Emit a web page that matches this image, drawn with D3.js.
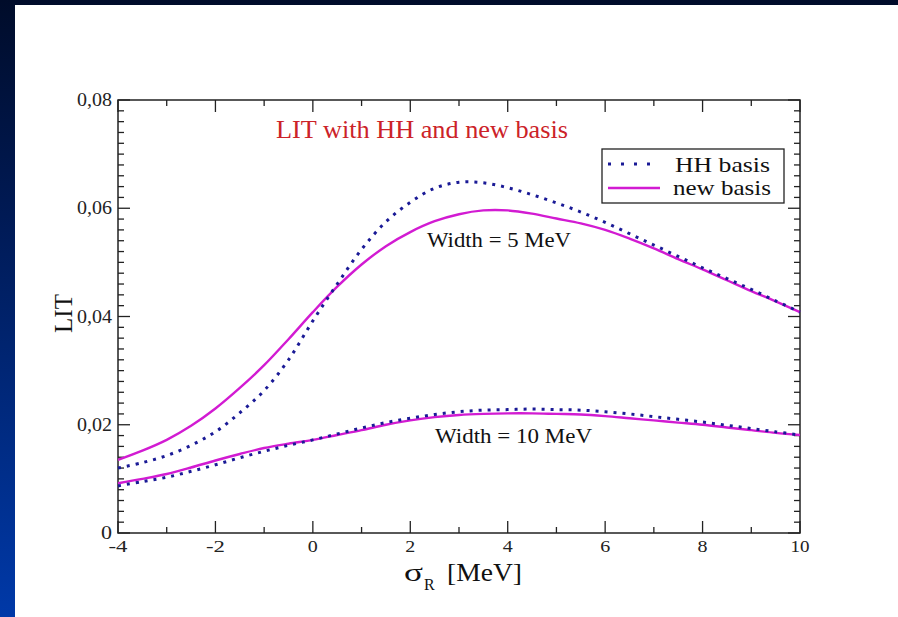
<!DOCTYPE html>
<html>
<head>
<meta charset="utf-8">
<script src="https://cdn.jsdelivr.net/npm/d3@7"></script>
<style>
  html, body { margin: 0; padding: 0; background: #ffffff; }
  svg { display: block; }
  text { font-family: "Liberation Serif", "DejaVu Serif", serif; }
</style>
</head>
<body>
<svg id="chart" width="898" height="617"></svg>
<script>
// Energy grid (MeV) and LIT values for the two Lorentz widths
const xGrid = [-4, -3.5, -3, -2.5, -2, -1.5, -1, -0.5, 0, 0.5, 1, 1.5, 2, 2.5, 3, 3.5, 4, 4.5, 5, 5.5, 6, 6.5, 7, 7.5, 8, 8.5, 9, 9.5, 10];

// Width = 5 MeV
const hh5  = [0.0120, 0.0130, 0.0143, 0.0162, 0.0187, 0.0222, 0.0263, 0.0320, 0.0392, 0.0460, 0.0524, 0.0575, 0.0611, 0.0637, 0.0648, 0.0647, 0.0638, 0.0625, 0.0610, 0.0593, 0.0574, 0.0553, 0.0532, 0.0511, 0.0490, 0.0470, 0.0450, 0.0429, 0.0408];
const new5 = [0.0135, 0.0152, 0.0172, 0.0198, 0.0230, 0.0268, 0.0310, 0.0358, 0.0408, 0.0455, 0.0496, 0.0530, 0.0556, 0.0576, 0.0589, 0.0596, 0.0596, 0.0590, 0.0581, 0.0572, 0.0560, 0.0544, 0.0526, 0.0506, 0.0487, 0.0467, 0.0447, 0.0428, 0.0408];

// Width = 10 MeV
const hh10  = [0.0087, 0.0095, 0.0103, 0.0114, 0.0126, 0.0139, 0.0151, 0.0162, 0.0172, 0.0183, 0.0194, 0.0204, 0.0212, 0.0219, 0.0224, 0.0227, 0.0228, 0.0229, 0.0228, 0.0227, 0.0224, 0.0220, 0.0215, 0.0210, 0.0205, 0.0199, 0.0193, 0.0187, 0.0181];
const new10 = [0.0092, 0.0100, 0.0109, 0.0121, 0.0134, 0.0146, 0.0157, 0.0165, 0.0172, 0.0181, 0.0190, 0.0200, 0.0208, 0.0214, 0.0218, 0.0220, 0.0221, 0.0221, 0.0220, 0.0219, 0.0216, 0.0212, 0.0208, 0.0204, 0.0200, 0.0195, 0.0190, 0.0185, 0.0181];

const xTicks = [-4, -2, 0, 2, 4, 6, 8, 10];
const xTickLabels = ["-4", "-2", "0", "2", "4", "6", "8", "10"];
const yTicks = [0, 0.02, 0.04, 0.06, 0.08];
const yTickLabels = ["0", "0,02", "0,04", "0,06", "0,08"];
const seriesNames = ["HH basis", "new basis"];

const W = 898, H = 617;
const svg = d3.select("#chart");

// Slide background: dark navy at the top fading to blue at the bottom
const defs = svg.append("defs");
const grad = defs.append("linearGradient").attr("id", "slideBg")
  .attr("x1", 0).attr("y1", 0).attr("x2", 0).attr("y2", 1);
grad.append("stop").attr("offset", "0%").attr("stop-color", "#000c2a");
grad.append("stop").attr("offset", "35%").attr("stop-color", "#001a55");
grad.append("stop").attr("offset", "100%").attr("stop-color", "#0039a8");
svg.append("rect").attr("width", W).attr("height", H).attr("fill", "url(#slideBg)");
svg.append("rect").attr("x", 15).attr("y", 5).attr("width", W - 15).attr("height", H - 5).attr("fill", "#ffffff");

// Plot frame
const pLeft = 118, pRight = 800, pTop = 100, pBottom = 533;
const x = d3.scaleLinear().domain([-4, 10]).range([pLeft, pRight]);
const y = d3.scaleLinear().domain([0, 0.08]).range([pBottom, pTop]);

const g = svg.append("g");

// Inward ticks on all four sides
const xMinor = d3.range(-4, 10.001, 1);
const yMinor = d3.range(0, 0.0801, 0.002);
const tickColor = "#222";
function isMajorX(v) { return Math.abs(v / 2 - Math.round(v / 2)) < 1e-6; }
function isMajorY(v) { return Math.abs(v / 0.02 - Math.round(v / 0.02)) < 1e-6; }

xMinor.forEach(v => {
  const L = isMajorX(v) ? 12 : 6;
  g.append("line").attr("x1", x(v)).attr("x2", x(v)).attr("y1", pBottom).attr("y2", pBottom - L)
    .attr("stroke", tickColor).attr("stroke-width", 1.3);
  g.append("line").attr("x1", x(v)).attr("x2", x(v)).attr("y1", pTop).attr("y2", pTop + L)
    .attr("stroke", tickColor).attr("stroke-width", 1.3);
});
yMinor.forEach(v => {
  const L = isMajorY(v) ? 12 : 6;
  g.append("line").attr("x1", pLeft).attr("x2", pLeft + L).attr("y1", y(v)).attr("y2", y(v))
    .attr("stroke", tickColor).attr("stroke-width", 1.3);
  g.append("line").attr("x1", pRight).attr("x2", pRight - L).attr("y1", y(v)).attr("y2", y(v))
    .attr("stroke", tickColor).attr("stroke-width", 1.3);
});

g.append("rect").attr("x", pLeft).attr("y", pTop).attr("width", pRight - pLeft).attr("height", pBottom - pTop)
  .attr("fill", "none").attr("stroke", "#222").attr("stroke-width", 1.5);

// Tick labels (slightly wide glyphs)
function stretched(sel, len) {
  return sel.attr("textLength", len).attr("lengthAdjust", "spacingAndGlyphs");
}
xTicks.forEach((v, i) => {
  const t = g.append("text").attr("x", x(v)).attr("y", pBottom + 19)
    .attr("text-anchor", "middle").attr("font-size", 17).attr("fill", "#222")
    .text(xTickLabels[i]);
  stretched(t, xTickLabels[i].length === 1 ? 10 : 19);
});
yTicks.forEach((v, i) => {
  const t = g.append("text").attr("x", pLeft - 6).attr("y", y(v) + 6)
    .attr("text-anchor", "end").attr("font-size", 18).attr("fill", "#222")
    .text(yTickLabels[i]);
  stretched(t, yTickLabels[i].length === 1 ? 11 : 35);
});

// Axis titles
g.append("text").attr("transform", `translate(72,${(pTop + pBottom) / 2 - 3}) rotate(-90)`)
  .attr("text-anchor", "middle").attr("font-size", 25).attr("fill", "#111").text("LIT");

stretched(g.append("text").attr("x", 404).attr("y", 581).attr("font-size", 25).attr("fill", "#111").text("σ"), 19);
g.append("text").attr("x", 424).attr("y", 590).attr("font-size", 16).attr("fill", "#111").text("R");
stretched(g.append("text").attr("x", 447).attr("y", 581).attr("font-size", 25).attr("fill", "#111").text("[MeV]"), 75);

// Curves
const line = d3.line().x(d => x(d[0])).y(d => y(d[1])).curve(d3.curveCatmullRom.alpha(0.5));
const solidColor = "#d21bd2", dotColor = "#1a1a96";
function draw(vals, dotted) {
  g.append("path").datum(xGrid.map((v, i) => [v, vals[i]]))
    .attr("d", line).attr("fill", "none")
    .attr("stroke", dotted ? dotColor : solidColor)
    .attr("stroke-width", dotted ? 3 : 2.4)
    .attr("stroke-dasharray", dotted ? "3 6" : null);
}
draw(new5, false);
draw(new10, false);
draw(hh5, true);
draw(hh10, true);

// Title and curve annotations
stretched(g.append("text").attr("x", 276).attr("y", 138)
  .attr("font-size", 25).attr("fill", "#cc2228").text("LIT with HH and new basis"), 292);
stretched(g.append("text").attr("x", 427).attr("y", 247).attr("font-size", 20).attr("fill", "#111").text("Width = 5 MeV"), 144);
stretched(g.append("text").attr("x", 435).attr("y", 443).attr("font-size", 20).attr("fill", "#111").text("Width = 10 MeV"), 157);

// Legend
const lg = g.append("g");
lg.append("rect").attr("x", 602).attr("y", 149).attr("width", 182).attr("height", 54)
  .attr("fill", "#fff").attr("stroke", "#222").attr("stroke-width", 1.3);
lg.append("line").attr("x1", 608).attr("x2", 657).attr("y1", 164).attr("y2", 164)
  .attr("stroke", dotColor).attr("stroke-width", 3).attr("stroke-dasharray", "3 10");
lg.append("line").attr("x1", 608).attr("x2", 660).attr("y1", 188).attr("y2", 188)
  .attr("stroke", solidColor).attr("stroke-width", 2.4);
stretched(lg.append("text").attr("x", 675).attr("y", 172).attr("font-size", 21).attr("fill", "#111").text(seriesNames[0]), 95);
stretched(lg.append("text").attr("x", 673).attr("y", 195).attr("font-size", 21).attr("fill", "#111").text(seriesNames[1]), 98);
</script>
</body>
</html>
